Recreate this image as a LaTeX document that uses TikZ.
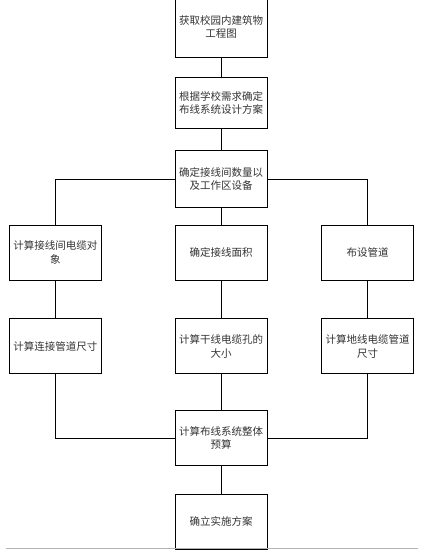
\documentclass[tikz,border=0pt]{standalone}
\usepackage{fontspec}
\newfontfamily\cjk{Noto Sans CJK SC}
\usetikzlibrary{positioning}
\tikzset{
  stepbox/.style={draw, minimum width=92pt, minimum height=55pt,
    text width=90pt, align=center, inner sep=0pt},
}

\begin{document}
\begin{tikzpicture}[
  x=1pt, y=1pt,
  line width=0.7pt,
  every node/.style={font=\cjk\fontsize{10.5}{13.5}\selectfont, text=black!80}
]
\useasboundingbox (0,0) rectangle (427,-557);

\node[stepbox,minimum height=60pt] (s1) at (221,-27) {获取校园内建筑物\\工程图};
\node[stepbox,minimum height=51pt,below=20pt of s1] (s2) {根据学校需求确定\\布线系统设计方案};
\node[stepbox,minimum height=57pt,below=21pt of s2] (s3) {确定接线间数量以\\及工作区设备};
\node[stepbox,below=17pt of s3] (s4) {确定接线面积};
\node[stepbox,below=38pt of s4] (s5) {计算干线电缆孔的\\大小};
\node[stepbox,below=36pt of s5] (s6) {计算布线系统整体\\预算};
\node[stepbox,below=28pt of s6] (s7) {确立实施方案};

\node[stepbox,left=73pt of s4] (l1) {计算接线间电缆对\\象};
\node[stepbox,left=73pt of s5] (l2) {计算连接管道尺寸};
\node[stepbox,right=54pt of s4] (r1) {布设管道};
\node[stepbox,right=54pt of s5] (r2) {计算地线电缆管道\\尺寸};

\draw (s1) -- (s2);
\draw (s2) -- (s3);
\draw (s3) -- (s4);
\draw (s3.west) -| (l1.north);
\draw (s3.east) -| (r1.north);
\draw (l1) -- (l2);
\draw (s4) -- (s5);
\draw (r1) -- (r2);
\draw (l2.south) |- (s6.west);
\draw (s5) -- (s6);
\draw (r2.south) |- (s6.east);
\draw (s6) -- (s7);

% bottom rule
\draw[gray!60,line width=1pt] (6,-548) -- (418,-548);

\end{tikzpicture}
\end{document}
